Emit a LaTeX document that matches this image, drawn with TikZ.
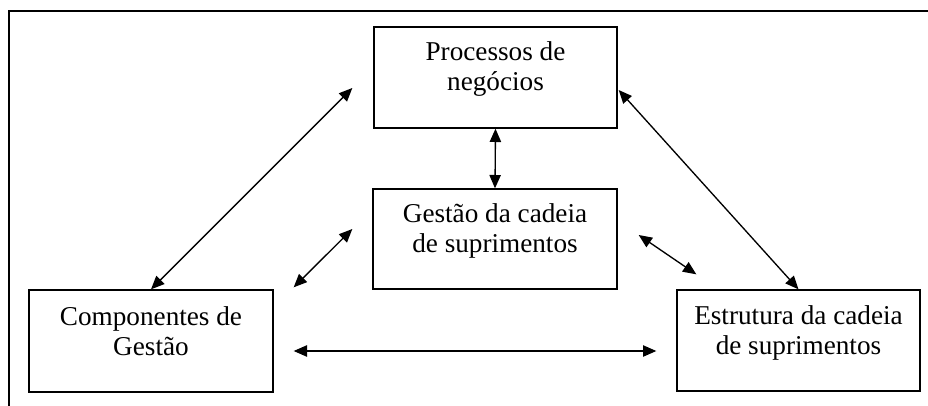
\documentclass[tikz,border=0pt]{standalone}
\usepackage{fontspec}
\setmainfont{Liberation Serif}
\usetikzlibrary{arrows.meta,calc}
\begin{document}
\begin{tikzpicture}[x=0.75pt,y=-0.75pt,
  box/.style={draw,line width=1pt,inner sep=0pt},
  lbl/.style={anchor=north,align=center,inner sep=0pt,font=\fontsize{20.4}{22.5}\selectfont},
  arr/.style={{Triangle[length=10pt,width=8.5pt]}-{Triangle[length=10pt,width=8.5pt]},line width=1pt}]
\useasboundingbox (0,0) rectangle (928,406);
\draw[line width=1.1pt] (9,406) -- (9,11) -- (928,11);
% boxes
\node[box,minimum width=182.25pt,minimum height=75.75pt] (pn) at (495.5,77.5) {};
\node[box,minimum width=183pt,minimum height=75pt] (gc) at (495,239) {};
\node[box,minimum width=183pt,minimum height=76.5pt] (cg) at (151,341) {};
\node[box,minimum width=182.25pt,minimum height=75.75pt] (ec) at (798.5,340.5) {};
% texts
\node[lbl] (pnt) at ($(pn.north)+(0,14.6)$) {Processos de\\negócios};
\node[lbl] (gct) at ($(gc.north)+(0,14.6)$) {Gestão da cadeia\\de suprimentos};
\node[lbl] (cgt) at ($(cg.north)+(0,16.6)$) {Componentes de\\Gestão};
\node[lbl] (ect) at ($(ec.north)+(0,15.6)$) {Estrutura da cadeia\\de suprimentos};
% connectors
\draw[arr] ($(pn.west)+(-21,10.5)$) -- (cg.north);
\draw[arr] ($(pn.east)+(1,12.5)$) -- (ec.north);
\draw[arr] (pn.south) -- (gc.north);
\draw[arr] ($(cg.north east)+(20,-2)$) -- ($(gc.west)+(-20,-10)$);
\draw[arr] ($(gc.east)+(21,-4)$) -- ($(ec.north west)+(20,-15)$);
\draw[arr] ($(cg.east)+(20,10)$) -- ($(ec.west)+(-20,10.5)$);
\end{tikzpicture}
\end{document}
